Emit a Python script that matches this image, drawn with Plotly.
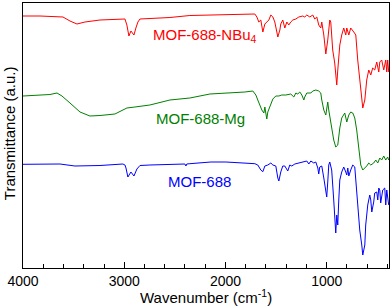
import plotly.graph_objects as go

# Wavenumber (cm^-1) and transmittance (a.u., offset traces)
wn_nbu4 = [4000, 3832, 3605, 3536, 3467, 3388, 3240, 3092, 2993, 2974, 2954, 2934, 2924, 2904, 2885, 2865, 2845,
           2747, 2549, 2352, 2154, 1957, 1760, 1710, 1690, 1671, 1651, 1631, 1611, 1592, 1572, 1552, 1532, 1513,
           1503, 1483, 1463, 1454, 1434, 1414, 1394, 1375, 1355, 1335, 1305, 1276, 1236, 1217, 1197, 1167, 1138,
           1118, 1098, 1079, 1059, 1049, 1029, 1009, 990, 970, 960, 941, 921, 911, 901, 891, 871, 852, 832, 812,
           802, 782, 763, 733, 713, 694, 674, 654, 644, 624, 605, 585, 565, 546, 526, 506, 486, 476, 457, 437,
           417, 407, 398, 388]
t_nbu4 = [252, 252, 251, 247, 244, 246, 248, 249, 249, 243, 232, 237, 236, 233, 240, 246, 249,
          249.5, 250.5, 252.5, 253, 253.5, 254, 254, 251, 246, 248, 236, 244, 246, 248, 253, 251, 246,
          241, 231, 238, 244, 248, 240, 246, 243, 246, 248, 249, 251, 252, 251, 253, 251, 253,
          249, 251, 243, 240, 246, 233, 214, 228, 248, 246, 218, 205, 193, 183, 198, 223, 233, 240, 233,
          240, 233, 240, 236, 233, 208, 188, 168, 160, 168, 188, 198, 193, 200, 198, 206, 196, 206, 208, 198,
          208, 196, 208, 196]

wn_mg = [4000, 3832, 3734, 3664, 3615, 3536, 3437, 3339, 3240, 3092, 2974, 2895, 2747, 2549, 2352, 2154, 1957,
         1809, 1730, 1700, 1681, 1661, 1641, 1621, 1611, 1602, 1592, 1582, 1562, 1532, 1503, 1473, 1444, 1404,
         1355, 1325, 1305, 1286, 1266, 1246, 1226, 1217, 1197, 1157, 1138, 1108, 1079, 1059, 1049, 1029, 1009,
         1000, 990, 980, 960, 941, 931, 911, 891, 871, 852, 822, 802, 782, 763, 743, 723, 704, 684, 664, 644,
         624, 605, 585, 565, 536, 516, 496, 476, 457, 437, 417, 398, 388]
t_mg = [172, 172.5, 173.5, 175, 172, 165, 156, 152, 152.5, 154, 160, 161, 163, 168, 170, 174, 175,
        176, 177, 173, 168, 163, 158, 155, 161, 155, 149, 156, 162, 169, 172, 172, 173, 173,
        174, 171, 175, 174, 176, 173, 168, 171, 175, 175, 177, 178, 177, 175, 168, 158, 153,
        160, 166, 158, 146, 136, 128, 121, 123, 140, 150, 155, 146, 153, 156, 155, 150, 138, 118, 103, 98,
        100, 102, 105, 103, 105, 108, 105, 110, 108, 112, 108, 111, 108]

wn_688 = [4000, 3635, 3487, 3240, 3013, 2993, 2983, 2964, 2934, 2904, 2875, 2845, 2747, 2549, 2401, 2391, 2382,
          2352, 2253, 2204, 2144, 1996, 1858, 1760, 1710, 1681, 1651, 1631, 1611, 1582, 1552, 1532, 1503, 1483,
          1473, 1454, 1434, 1414, 1385, 1365, 1345, 1315, 1266, 1236, 1197, 1177, 1157, 1128, 1108, 1088, 1079,
          1069, 1049, 1029, 1009, 1000, 990, 980, 970, 951, 931, 921, 911, 901, 891, 881, 871, 852, 832, 812,
          802, 792, 782, 763, 743, 723, 713, 694, 674, 654, 644, 624, 615, 595, 575, 565, 555, 536, 526, 506,
          496, 486, 476, 467, 447, 427, 417, 407, 398, 388]
t_688 = [103.7, 104, 102, 102.5, 104, 103, 100, 91, 96, 92, 99, 102.5, 103, 103.5, 104, 102, 104,
         104.3, 105, 106, 106, 106, 105.3, 105.3, 104.3, 103, 98, 96.3, 102, 103, 105, 103, 102, 90,
         87, 96, 102, 102, 97, 103, 102, 104, 105, 105.5, 107, 104, 107, 105, 106, 100, 94,
         101, 102, 90, 73, 71, 86, 103, 106, 98, 68, 55, 35, 53, 43, 68, 88, 96, 101, 96,
         93, 100, 92, 98, 103, 101, 88, 63, 38, 23, 13, 23, 43, 63, 73, 68, 56, 66, 75, 76,
         68, 80, 78, 65, 78, 80, 63, 78, 70, 63]

labels = ["MOF-688-NBu<sub>4</sub>", "MOF-688-Mg", "MOF-688"]
colors = ["#ff0000", "#008000", "#0000ff"]
label_pos = [(0.497, 0.879), (0.484, 0.566), (0.481, 0.325)]

x_title = "Wavenumber (cm<sup>-1</sup>)"
y_title = "Transmittance (a.u.)"
tick_vals = [4000, 3000, 2000, 1000]
tick_text = ["4000", "3000", "2000", "1000"]

FONT = "Arial, Liberation Sans, sans-serif"

fig = go.Figure()
for wn, t, c, name in zip([wn_nbu4, wn_mg, wn_688], [t_nbu4, t_mg, t_688], colors, labels):
    fig.add_trace(go.Scatter(x=wn, y=t, mode="lines", line=dict(color=c, width=1),
                             name=name, showlegend=False, hoverinfo="skip"))

for (px, py), c, name in zip(label_pos, colors, labels):
    fig.add_annotation(x=px, y=py, xref="paper", yref="paper", text=name, showarrow=False,
                       font=dict(family=FONT, size=15, color=c), xanchor="center", yanchor="middle")

# axis titles as annotations for exact placement
fig.add_annotation(x=0.5, y=-0.109, xref="paper", yref="paper", text=x_title, showarrow=False,
                   font=dict(family=FONT, size=15, color="black"), xanchor="center", yanchor="middle")
fig.add_annotation(x=-0.038, y=0.509, xref="paper", yref="paper", text=y_title, showarrow=False,
                   textangle=-90, font=dict(family=FONT, size=15, color="black"),
                   xanchor="center", yanchor="middle")

fig.update_layout(
    width=392, height=308,
    margin=dict(l=23, r=3, t=3, b=40, autoexpand=False),
    paper_bgcolor="white", plot_bgcolor="white",
    font=dict(family=FONT, size=14, color="black"),
)
fig.update_xaxes(
    range=[4000, 385], showgrid=False, zeroline=False, automargin=False,
    showline=True, linecolor="black", linewidth=1, mirror=True,
    tickmode="array", tickvals=tick_vals, ticktext=tick_text,
    ticks="inside", ticklen=6, tickcolor="black", tickwidth=1,
    minor=dict(ticks="inside", ticklen=4, dtick=200, tick0=0, tickcolor="black", showgrid=False),
    tickfont=dict(size=14),
)
fig.update_yaxes(
    range=[0, 265], showgrid=False, zeroline=False, automargin=False,
    showline=True, linecolor="black", linewidth=1, mirror=True,
    showticklabels=False, ticks="",
)

fig.write_html("out.html", config={"displayModeBar": False},
               post_script="document.body.style.margin='0';document.body.style.overflow='hidden';")
